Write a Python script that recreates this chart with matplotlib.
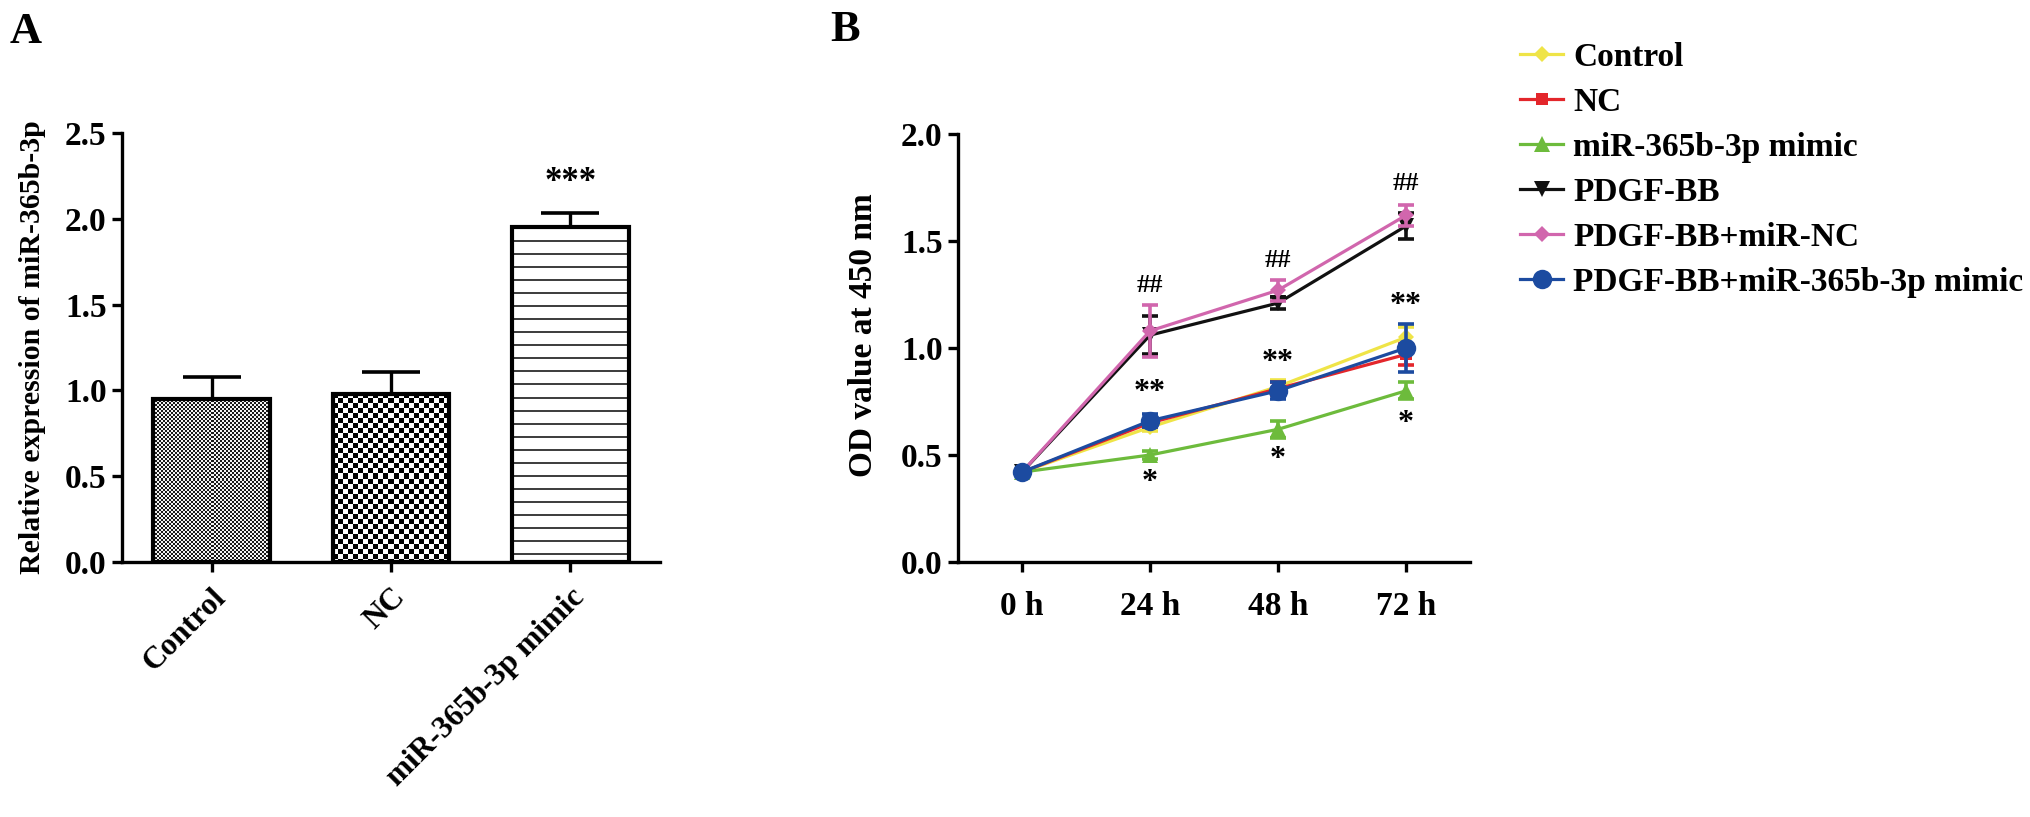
import numpy as np
import matplotlib
matplotlib.use('Agg')
import matplotlib.pyplot as plt
import matplotlib.transforms as mtransforms

plt.rcParams['font.family'] = ['Liberation Serif', 'DejaVu Serif']
plt.rcParams['font.weight'] = 'bold'
plt.rcParams['axes.labelweight'] = 'bold'

# Panel A data
groups = ['Control', 'NC', 'miR-365b-3p mimic']
expr = [0.95, 0.98, 1.95]
expr_err = [0.13, 0.13, 0.085]
expr_sig = ['', '', '***']

# Panel B data
times = ['0 h', '24 h', '48 h', '72 h']
series_names = ['Control', 'NC', 'miR-365b-3p mimic', 'PDGF-BB',
                'PDGF-BB+miR-NC', 'PDGF-BB+miR-365b-3p mimic']
od_control = [0.42, 0.63, 0.82, 1.05]
od_nc = [0.42, 0.65, 0.81, 0.97]
od_mimic = [0.42, 0.50, 0.62, 0.80]
od_pdgf = [0.42, 1.06, 1.21, 1.57]
od_pdgf_nc = [0.42, 1.08, 1.27, 1.62]
od_pdgf_mimic = [0.42, 0.66, 0.80, 1.00]
err_control = [0.01, 0.02, 0.03, 0.05]
err_nc = [0.01, 0.02, 0.03, 0.05]
err_mimic = [0.01, 0.02, 0.04, 0.04]
err_pdgf = [0.01, 0.09, 0.03, 0.06]
err_pdgf_nc = [0.01, 0.12, 0.05, 0.05]
err_pdgf_mimic = [0.01, 0.03, 0.04, 0.11]

# significance marks: (time index, y, text)
marks = [(1, 1.29, '##'), (2, 1.41, '##'), (3, 1.77, '##'),
         (1, 0.79, '**'), (2, 0.93, '**'), (3, 1.20, '**'),
         (1, 0.37, '*'), (2, 0.48, '*'), (3, 0.645, '*')]

colors = ['#efe447', '#e3262b', '#6dbb3c', '#111111', '#d166ad', '#1c4ba0']
markers = ['D', 's', '^', 'v', 'D', 'o']
msizes = [8, 9, 11, 11, 8, 14]

W, H = 2031, 817
fig = plt.figure(figsize=(W / 100, H / 100), dpi=100)
axA = fig.add_axes([122 / W, 1 - 562 / H, (660 - 122) / W, (562 - 133) / H])
axB = fig.add_axes([958 / W, 1 - 562 / H, (1470 - 958) / W, (562 - 134) / H])

for ax in (axA, axB):
    for s in ('top', 'right'):
        ax.spines[s].set_visible(False)
    for s in ('left', 'bottom'):
        ax.spines[s].set_linewidth(2.4)
    ax.tick_params(direction='out', length=7, width=2.4, labelsize=24, pad=4)

# ---- Panel A ----
xpos = np.arange(len(groups))
axA.set_xlim(-0.5, 2.5)
axA.set_ylim(0, 2.5)
bars = axA.bar(xpos, expr, width=0.65, facecolor='none', edgecolor='black',
               linewidth=3, zorder=3)


def texture(kind, h, w):
    # fill patterns of the three bars, in screen pixels
    yy, xx = np.mgrid[0:h, 0:w]
    if kind == 0:
        img = ((xx // 2 + yy // 2) % 2).astype(float) * 0.85 + 0.1
    elif kind == 1:
        img = ((xx // 5 + yy // 5) % 2).astype(float)
    else:
        img = np.where(yy % 13 < 2, 0.25, 1.0)
    return img


for i, b in enumerate(bars):
    x0, y0 = b.get_x(), b.get_y()
    x1, y1 = x0 + b.get_width(), y0 + b.get_height()
    p0 = axA.transData.transform((x0, y0))
    p1 = axA.transData.transform((x1, y1))
    w = int(abs(p1[0] - p0[0]))
    h = int(abs(p1[1] - p0[1]))
    im = axA.imshow(texture(i, h, w), cmap='gray', vmin=0, vmax=1,
                    extent=(x0, x1, y0, y1), aspect='auto',
                    interpolation='nearest', zorder=2)
    im.set_clip_path(b)

axA.set_xlim(-0.5, 2.5)
axA.set_ylim(0, 2.5)
axA.errorbar(xpos, expr, yerr=[np.zeros(len(expr)), expr_err], fmt='none',
             ecolor='black', elinewidth=2.4, capsize=21, capthick=2.6, zorder=4)
for x, v, e, s in zip(xpos, expr, expr_err, expr_sig):
    if s:
        axA.text(x, v + e + 0.08, s, ha='center', va='bottom', fontsize=25,
                 fontweight='bold')

axA.set_yticks(np.arange(0, 2.51, 0.5))
axA.set_yticklabels([f'{v:.1f}' for v in np.arange(0, 2.51, 0.5)])
axA.set_xticks(xpos)
axA.set_xticklabels(groups, rotation=45, ha='right', va='top',
                    rotation_mode='anchor', fontsize=22.5)
shift = mtransforms.ScaledTranslation(18 / 72, 0, fig.dpi_scale_trans)
for lab in axA.get_xticklabels():
    lab.set_transform(lab.get_transform() + shift)
axA.tick_params(axis='x', pad=8)
axA.set_ylabel('Relative expression of miR-365b-3p', fontsize=21.5, labelpad=14)

# ---- Panel B ----
tx = np.arange(len(times))
axB.set_xlim(-0.5, 3.5)
axB.set_ylim(0, 2.0)
all_vals = [od_control, od_nc, od_mimic, od_pdgf, od_pdgf_nc, od_pdgf_mimic]
all_errs = [err_control, err_nc, err_mimic, err_pdgf, err_pdgf_nc, err_pdgf_mimic]
handles = []
for k, (vals, errs) in enumerate(zip(all_vals, all_errs)):
    axB.errorbar(tx, vals, yerr=errs, fmt='none', ecolor=colors[k],
                 elinewidth=2.6, capsize=5.5, capthick=2.6, zorder=3 + k)
    ln, = axB.plot(tx, vals, color=colors[k], lw=2.3, marker=markers[k],
                   markersize=msizes[k], markeredgewidth=0, zorder=3 + k,
                   label=series_names[k], clip_on=False)
    handles.append(ln)

for i, y, s in marks:
    axB.text(tx[i], y, s, ha='center', va='center',
             fontsize=19 if s.startswith('#') else 23, fontweight='bold')

axB.set_xticks(tx)
axB.set_xticklabels(times)
axB.tick_params(axis='x', pad=14)
axB.set_yticks(np.arange(0, 2.01, 0.5))
axB.set_yticklabels([f'{v:.1f}' for v in np.arange(0, 2.01, 0.5)])
axB.set_ylabel('OD value at 450 nm', fontsize=24)
axB.yaxis.set_label_coords(-0.155, 0.53)

fig.legend(handles=handles, loc='upper left',
           bbox_to_anchor=(1520 / W, 1 - 42 / H), frameon=False,
           prop={'size': 24, 'weight': 'bold'}, handlelength=1.3,
           handletextpad=0.3, labelspacing=0.42, borderpad=0,
           borderaxespad=0)

fig.text(10 / W, 1 - 12 / H, 'A', fontsize=32, fontweight='bold', va='top')
fig.text(830 / W, 1 - 10 / H, 'B', fontsize=32, fontweight='bold', va='top')

fig.savefig('out.png', dpi=100)
